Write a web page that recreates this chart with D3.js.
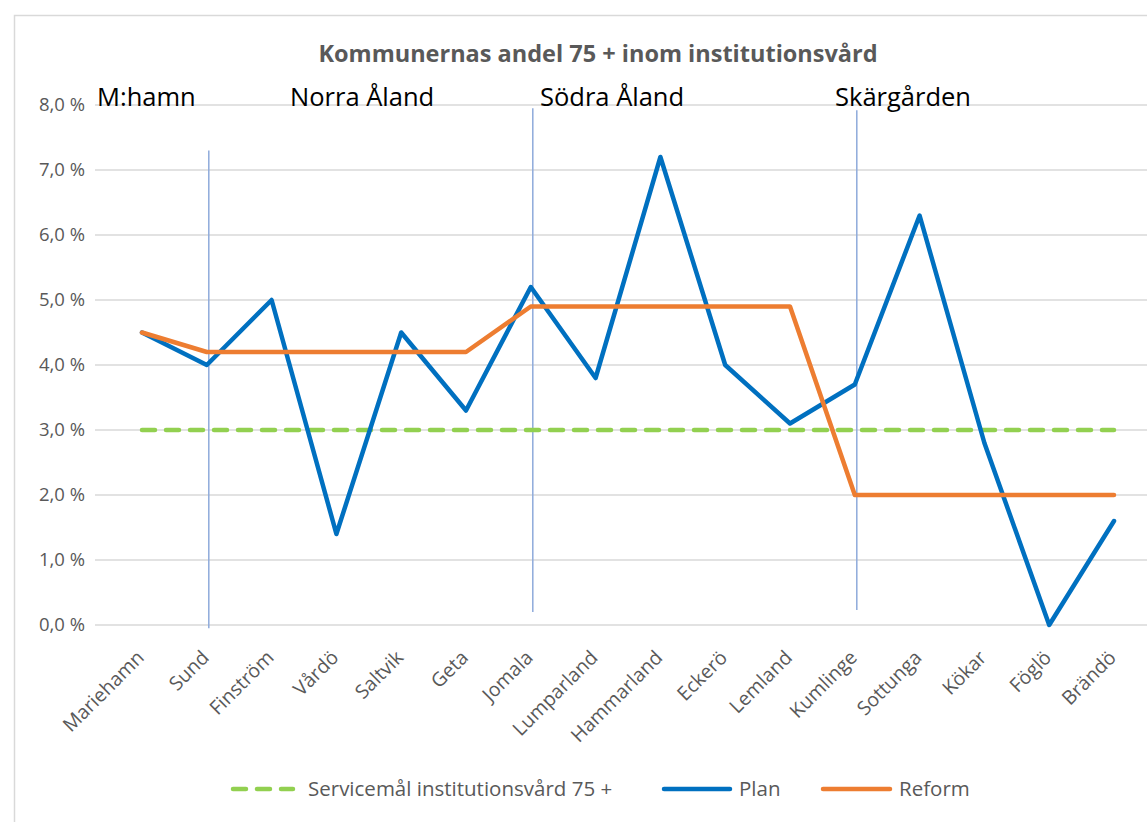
<!DOCTYPE html>
<html>
<head>
<meta charset="utf-8">
<script src="https://cdn.jsdelivr.net/npm/d3@7"></script>
<style>
  body { margin: 0; background: #fff; }
  svg { display: block; font-family: "Open Sans", "Noto Sans", sans-serif; }
</style>
</head>
<body>
<svg></svg>
<script>
const kommuner = ["Mariehamn", "Sund", "Finström", "Vårdö", "Saltvik", "Geta", "Jomala", "Lumparland",
    "Hammarland", "Eckerö", "Lemland", "Kumlinge", "Sottunga", "Kökar", "Föglö", "Brändö"];
const planValues = [4.5, 4.0, 5.0, 1.4, 4.5, 3.3, 5.2, 3.8, 7.2, 4.0, 3.1, 3.7, 6.3, 2.8, 0.0, 1.6];
const reformValues = [4.5, 4.2, 4.2, 4.2, 4.2, 4.2, 4.9, 4.9, 4.9, 4.9, 4.9, 2.0, 2.0, 2.0, 2.0, 2.0];
const servicemal = 3.0;
const yTicks = [0, 1, 2, 3, 4, 5, 6, 7, 8];
// region labels and divider lines (kommun where the divider stands, top/bottom in %)
const regions = ["M:hamn", "Norra Åland", "Södra Åland", "Skärgården"];
const dividers = [["Sund", 7.3, -0.05], ["Jomala", 7.95, 0.2], ["Kumlinge", 7.92, 0.23]];

const width = 1147, height = 822;
const svg = d3.select("svg").attr("width", width).attr("height", height);
const grey = "#595959";

// chart frame
svg.append("path")
    .attr("d", `M14.5,${height} V15.5 H${width}`)
    .attr("fill", "none").attr("stroke", "#d9d9d9").attr("stroke-width", 1.5);

const x = d3.scalePoint().domain(kommuner).range([142, 1114]);
const y = d3.scaleLinear().domain([0, 8]).range([625, 105]);
const fmt = v => d3.format(".1f")(v).replace(".", ",") + " %";

// gridlines
svg.append("g").selectAll("line").data(yTicks).join("line")
    .attr("x1", 95).attr("x2", width)
    .attr("y1", d => y(d)).attr("y2", d => y(d))
    .attr("stroke", "#d9d9d9").attr("stroke-width", 1.5);

// y axis labels
const yAxis = svg.append("g").attr("transform", "translate(85,0)")
    .call(d3.axisLeft(y).tickValues(yTicks).tickFormat(fmt).tickSize(0).tickPadding(0));
yAxis.select(".domain").remove();
yAxis.selectAll("text").attr("fill", grey).style("font-size", "18.5px")
    .style("font-family", "'Open Sans', sans-serif");

// x axis labels
const xAxis = svg.append("g").attr("transform", "translate(0,625)")
    .call(d3.axisBottom(x).tickSize(0).tickPadding(0));
xAxis.select(".domain").remove();
xAxis.selectAll("text")
    .attr("fill", grey).style("font-size", "19.5px")
    .style("font-family", "'Open Sans', sans-serif")
    .attr("text-anchor", "end")
    .attr("dy", "0.35em")
    .attr("transform", "translate(-2,29) rotate(-45)");

// dividers
svg.append("g").selectAll("line").data(dividers).join("line")
    .attr("x1", d => x(d[0]) + 2).attr("x2", d => x(d[0]) + 2)
    .attr("y1", d => y(d[1])).attr("y2", d => y(d[2]))
    .attr("stroke", "#8eaadb").attr("stroke-width", 1.5);

// target line
svg.append("line")
    .attr("x1", x(kommuner[0])).attr("x2", x(kommuner[kommuner.length - 1]))
    .attr("y1", y(servicemal)).attr("y2", y(servicemal))
    .attr("stroke", "#92d050").attr("stroke-width", 4.5)
    .attr("stroke-dasharray", "13,11").attr("stroke-linecap", "round");

const line = d3.line().x((d, i) => x(kommuner[i])).y(d => y(d));

svg.append("path").datum(planValues)
    .attr("d", line).attr("fill", "none")
    .attr("stroke", "#0070c0").attr("stroke-width", 4.5)
    .attr("stroke-linejoin", "round").attr("stroke-linecap", "round");

svg.append("path").datum(reformValues)
    .attr("d", line).attr("fill", "none")
    .attr("stroke", "#ed7d31").attr("stroke-width", 4.5)
    .attr("stroke-linejoin", "round").attr("stroke-linecap", "round");

// title
svg.append("text")
    .attr("x", 598).attr("y", 62)
    .attr("text-anchor", "middle")
    .attr("fill", grey).style("font-size", "23.5px").style("font-weight", "bold")
    .text("Kommunernas andel 75 + inom institutionsvård");

// region labels
const regionX = [97, 290, 540, 835];
svg.append("g").selectAll("text").data(regions).join("text")
    .attr("x", (d, i) => regionX[i]).attr("y", 106)
    .attr("fill", "#000").style("font-size", "25.5px")
    .text(d => d);

// legend
const legend = [
    { name: "Servicemål institutionsvård 75 +", color: "#92d050", dash: "13,11", x: 233, len: 60 },
    { name: "Plan", color: "#0070c0", dash: null, x: 664, len: 66 },
    { name: "Reform", color: "#ed7d31", dash: null, x: 823, len: 67 }
];
const lg = svg.append("g").selectAll("g").data(legend).join("g")
    .attr("transform", d => `translate(${d.x},789)`);
lg.append("line")
    .attr("x1", 0).attr("x2", d => d.len)
    .attr("stroke", d => d.color).attr("stroke-width", 4.5)
    .attr("stroke-linecap", "round")
    .attr("stroke-dasharray", d => d.dash);
lg.append("text")
    .attr("x", d => d.len + (d.dash ? 15 : 9)).attr("dy", "0.35em")
    .attr("fill", grey).style("font-size", "20.5px")
    .text(d => d.name);
</script>
</body>
</html>
